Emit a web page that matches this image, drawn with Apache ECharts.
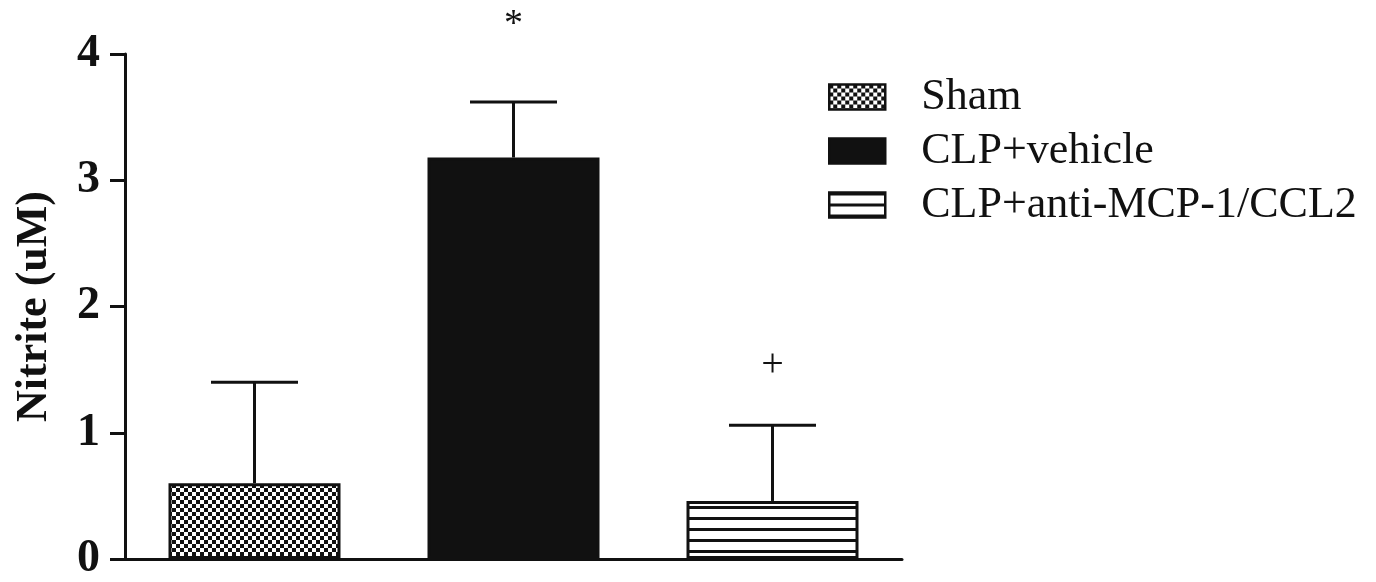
<!DOCTYPE html>
<html>
<head>
<meta charset="utf-8">
<script src="https://cdn.jsdelivr.net/npm/echarts@6/dist/echarts.min.js"></script>
<style>
html,body{margin:0;padding:0;background:#fff;}
#chart{width:1376px;height:582px;}
</style>
</head>
<body>
<div id="chart"></div>
<script>
// ---- data ----
var categories = ['Sham', 'CLP+vehicle', 'CLP+anti-MCP-1/CCL2'];
var means = [0.60, 3.18, 0.46];
var errUpper = [1.40, 3.62, 1.06];
var annotations = ['', '*', '+'];
var annotationY = [null, 4.23, 1.53];
var yTicks = [0, 1, 2, 3, 4];

// ---- patterns ----
function checker() {
  var c = document.createElement('canvas');
  c.width = 8; c.height = 8;
  var g = c.getContext('2d');
  g.fillStyle = '#fff'; g.fillRect(0, 0, 8, 8);
  g.fillStyle = '#111';
  g.fillRect(0, 0, 4, 4); g.fillRect(4, 4, 4, 4);
  return c;
}
function stripes() {
  var c = document.createElement('canvas');
  c.width = 8; c.height = 11;
  var g = c.getContext('2d');
  g.fillStyle = '#fff'; g.fillRect(0, 0, 8, 11);
  g.fillStyle = '#111';
  g.fillRect(0, 0, 8, 3);
  return c;
}
var fills = [
  { image: checker(), repeat: 'repeat' },
  '#111',
  { image: stripes(), repeat: 'repeat' }
];
var legendFills = [
  { image: checker(), repeat: 'repeat' },
  '#111',
  { image: stripes(), repeat: 'repeat' }
];

var chart = echarts.init(document.getElementById('chart'), null, { renderer: 'canvas' });

var barSeries = categories.map(function (name, i) {
  var d = categories.map(function (_, j) { return j === i ? means[j] : '-'; });
  return {
    name: name,
    type: 'bar',
    data: d,
    barWidth: 172,
    barGap: '-100%',
    itemStyle: { color: fills[i], borderColor: '#111', borderWidth: 3 },
    z: 2
  };
});

var errData = means.map(function (m, i) { return [i, m, errUpper[i]]; });
var annData = [];
annotations.forEach(function (t, i) {
  if (t) annData.push([i, annotationY[i], t]);
});

var option = {
  animation: false,
  backgroundColor: '#fff',
  grid: { left: 125, right: 474, top: 54, bottom: 16, containLabel: false },
  legend: {
    orient: 'vertical',
    left: 823,
    top: 70,
    itemWidth: 56,
    itemHeight: 25,
    itemGap: 10,
    icon: 'rect',
    selectedMode: false,
    data: categories.map(function (n, i) {
      return { name: n, itemStyle: { color: legendFills[i], borderColor: '#111', borderWidth: 2.5 } };
    }),
    textStyle: {
      fontFamily: 'Liberation Serif',
      fontSize: 44,
      lineHeight: 44,
      color: '#111',
      padding: [0, 0, 0, 31]
    }
  },
  xAxis: {
    type: 'category',
    data: categories,
    axisLine: { lineStyle: { color: '#111', width: 3 } },
    axisTick: { show: false },
    axisLabel: { show: false },
    splitLine: { show: false }
  },
  yAxis: {
    type: 'value',
    min: 0,
    max: 4,
    interval: 1,
    name: 'Nitrite (uM)',
    nameLocation: 'middle',
    nameRotate: 90,
    nameGap: 68,
    nameTextStyle: { fontFamily: 'Liberation Serif', fontWeight: 'bold', fontSize: 44, color: '#111' },
    axisLine: { show: true, lineStyle: { color: '#111', width: 3 } },
    axisTick: { show: true, length: 15, lineStyle: { color: '#111', width: 3 } },
    axisLabel: {
      fontFamily: 'Liberation Serif', fontWeight: 'bold', fontSize: 46, color: '#111', margin: 25,
      formatter: function (v) { return yTicks.indexOf(v) >= 0 ? String(v) : ''; }
    },
    splitLine: { show: false }
  },
  series: barSeries.concat([
    {
      type: 'custom',
      name: 'err',
      data: errData,
      z: 3,
      renderItem: function (params, api) {
        var x = api.value(0);
        var top = api.coord([x, api.value(1)]);
        var up = api.coord([x, api.value(2)]);
        var hw = 43.5;
        var st = { stroke: '#111', lineWidth: 3 };
        return {
          type: 'group',
          children: [
            { type: 'line', shape: { x1: top[0], y1: top[1], x2: up[0], y2: up[1] }, style: st },
            { type: 'line', shape: { x1: up[0] - hw, y1: up[1], x2: up[0] + hw, y2: up[1] }, style: st }
          ]
        };
      }
    },
    {
      type: 'custom',
      name: 'ann',
      data: annData,
      clip: false,
      z: 4,
      renderItem: function (params, api) {
        var p = api.coord([api.value(0), api.value(1)]);
        var t = annData[params.dataIndex][2];
        return {
          type: 'text',
          x: p[0], y: p[1],
          style: {
            text: t,
            fontFamily: 'Liberation Serif',
            fontSize: t === '*' ? 38 : 40,
            fill: '#111',
            align: 'center',
            verticalAlign: 'middle'
          }
        };
      }
    }
  ])
};
chart.setOption(option);
</script>
</body>
</html>
